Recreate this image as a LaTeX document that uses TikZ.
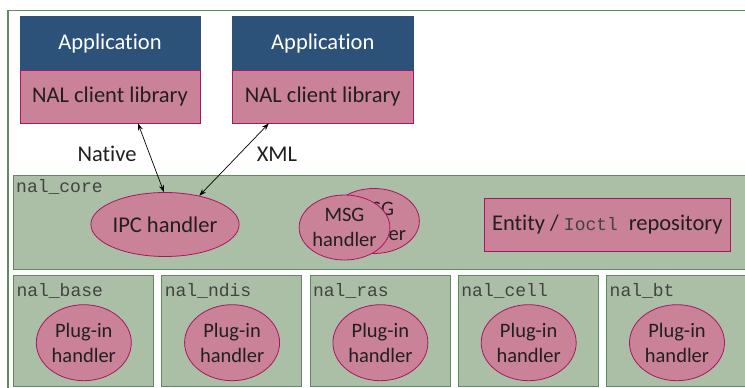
\documentclass[tikz,border=0pt]{standalone}
\usepackage{fontspec}
\setmainfont[Ligatures=NoCommon]{Carlito}
\newfontfamily\monof{Liberation Mono}
\usetikzlibrary{arrows.meta,calc,shapes.geometric}
\definecolor{appblue}{HTML}{2C5279}
\definecolor{pinkfill}{HTML}{C98298}
\definecolor{pinkline}{HTML}{A8175E}
\definecolor{greenfill}{HTML}{ABBFA7}
\definecolor{greenline}{HTML}{5F8A62}
\definecolor{txt}{HTML}{231F20}
\tikzset{
  bigfont/.style={font=\fontsize{22.5}{24}\selectfont},
  appbox/.style={draw=appblue, fill=appblue, text=white, minimum width=180pt, minimum height=54.7pt, inner sep=0pt, bigfont},
  libbox/.style={draw=pinkline, line width=0.8pt, fill=pinkfill, text=txt, minimum width=180pt, minimum height=52.3pt, inner sep=0pt, bigfont},
  modbox/.style={draw=greenline, line width=0.8pt, fill=greenfill},
  handler/.style={draw=pinkline, line width=0.8pt, fill=pinkfill, ellipse, text=txt, inner sep=0pt, align=center, font=\fontsize{20.5}{25}\selectfont},
  modlabel/.style={anchor=base west, inner sep=0pt, text=txt!85, font=\monof\fontsize{18}{20}\selectfont},
  conn/.style={{Stealth[length=7pt,width=5pt]}-{Stealth[length=7pt,width=5pt]}, line width=0.7pt, black},
  lbl/.style={text=txt, bigfont, inner sep=0pt}
}
\begin{document}
\begin{tikzpicture}[x=1pt,y=-1pt]
\useasboundingbox (0,0) rectangle (745,388);
\clip (0,0) rectangle (745,388);
\fill[white] (0,0) rectangle (745,388);
% outer frame
\draw[greenline, line width=1.2pt] (8,10.7) rectangle (760,400);
% nal_core
\draw[modbox] (13,175) rectangle (760,269);
\node[modlabel] (lcore) at (16,192) {nal\_core};
% bottom modules
\foreach \i/\name in {0/base,1/ndis,2/ras,3/cell,4/bt}{
  \pgfmathsetmacro{\xl}{13.3+148.3*\i}
  \draw[modbox] (\xl,275) rectangle ({\xl+140},386);
  \node[modlabel] (l\name) at ({\xl+3},296) {nal\_\name};
  \node[handler, minimum width=95pt, minimum height=76pt] (p\name) at ({\xl+70.5},342.7) {Plug-in\\handler};
}
% applications
\node[appbox] (app1) at (110,43.4) {Application};
\node[libbox] (lib1) at (110,96.9) {NAL client library};
\node[appbox, minimum width=180.3pt] (app2) at (322.8,43.4) {Application};
\node[libbox, minimum width=180.3pt] (lib2) at (322.8,96.9) {NAL client library};
% core handlers
\node[handler, bigfont, minimum width=124.6pt, minimum height=64pt] (ipc) at (165,224.5) {IPC handler};
\node[handler, minimum width=87pt, minimum height=65pt] (msgb) at (374,221) {MSG\\handler};
\node[handler, minimum width=87pt, minimum height=65pt] (msgf) at (344.5,227.5) {MSG\\handler};
\node[draw=pinkline, line width=0.8pt, fill=pinkfill, text=txt, minimum width=246.7pt, minimum height=52.7pt, inner sep=0pt, bigfont] (ent) at (607.3,224.7) {Entity / {\monof\fontsize{18}{20}\selectfont\color{txt!85}Ioctl }repository};
% connectors
\draw[conn] ([xshift=28pt]lib1.south) -- (ipc.92);
\draw[conn] ([xshift=-54pt]lib2.south) -- (ipc.40);
\node[lbl] (native) at (107,154) {Native};
\node[lbl] (xml) at (277,154) {XML};
\end{tikzpicture}
\end{document}
